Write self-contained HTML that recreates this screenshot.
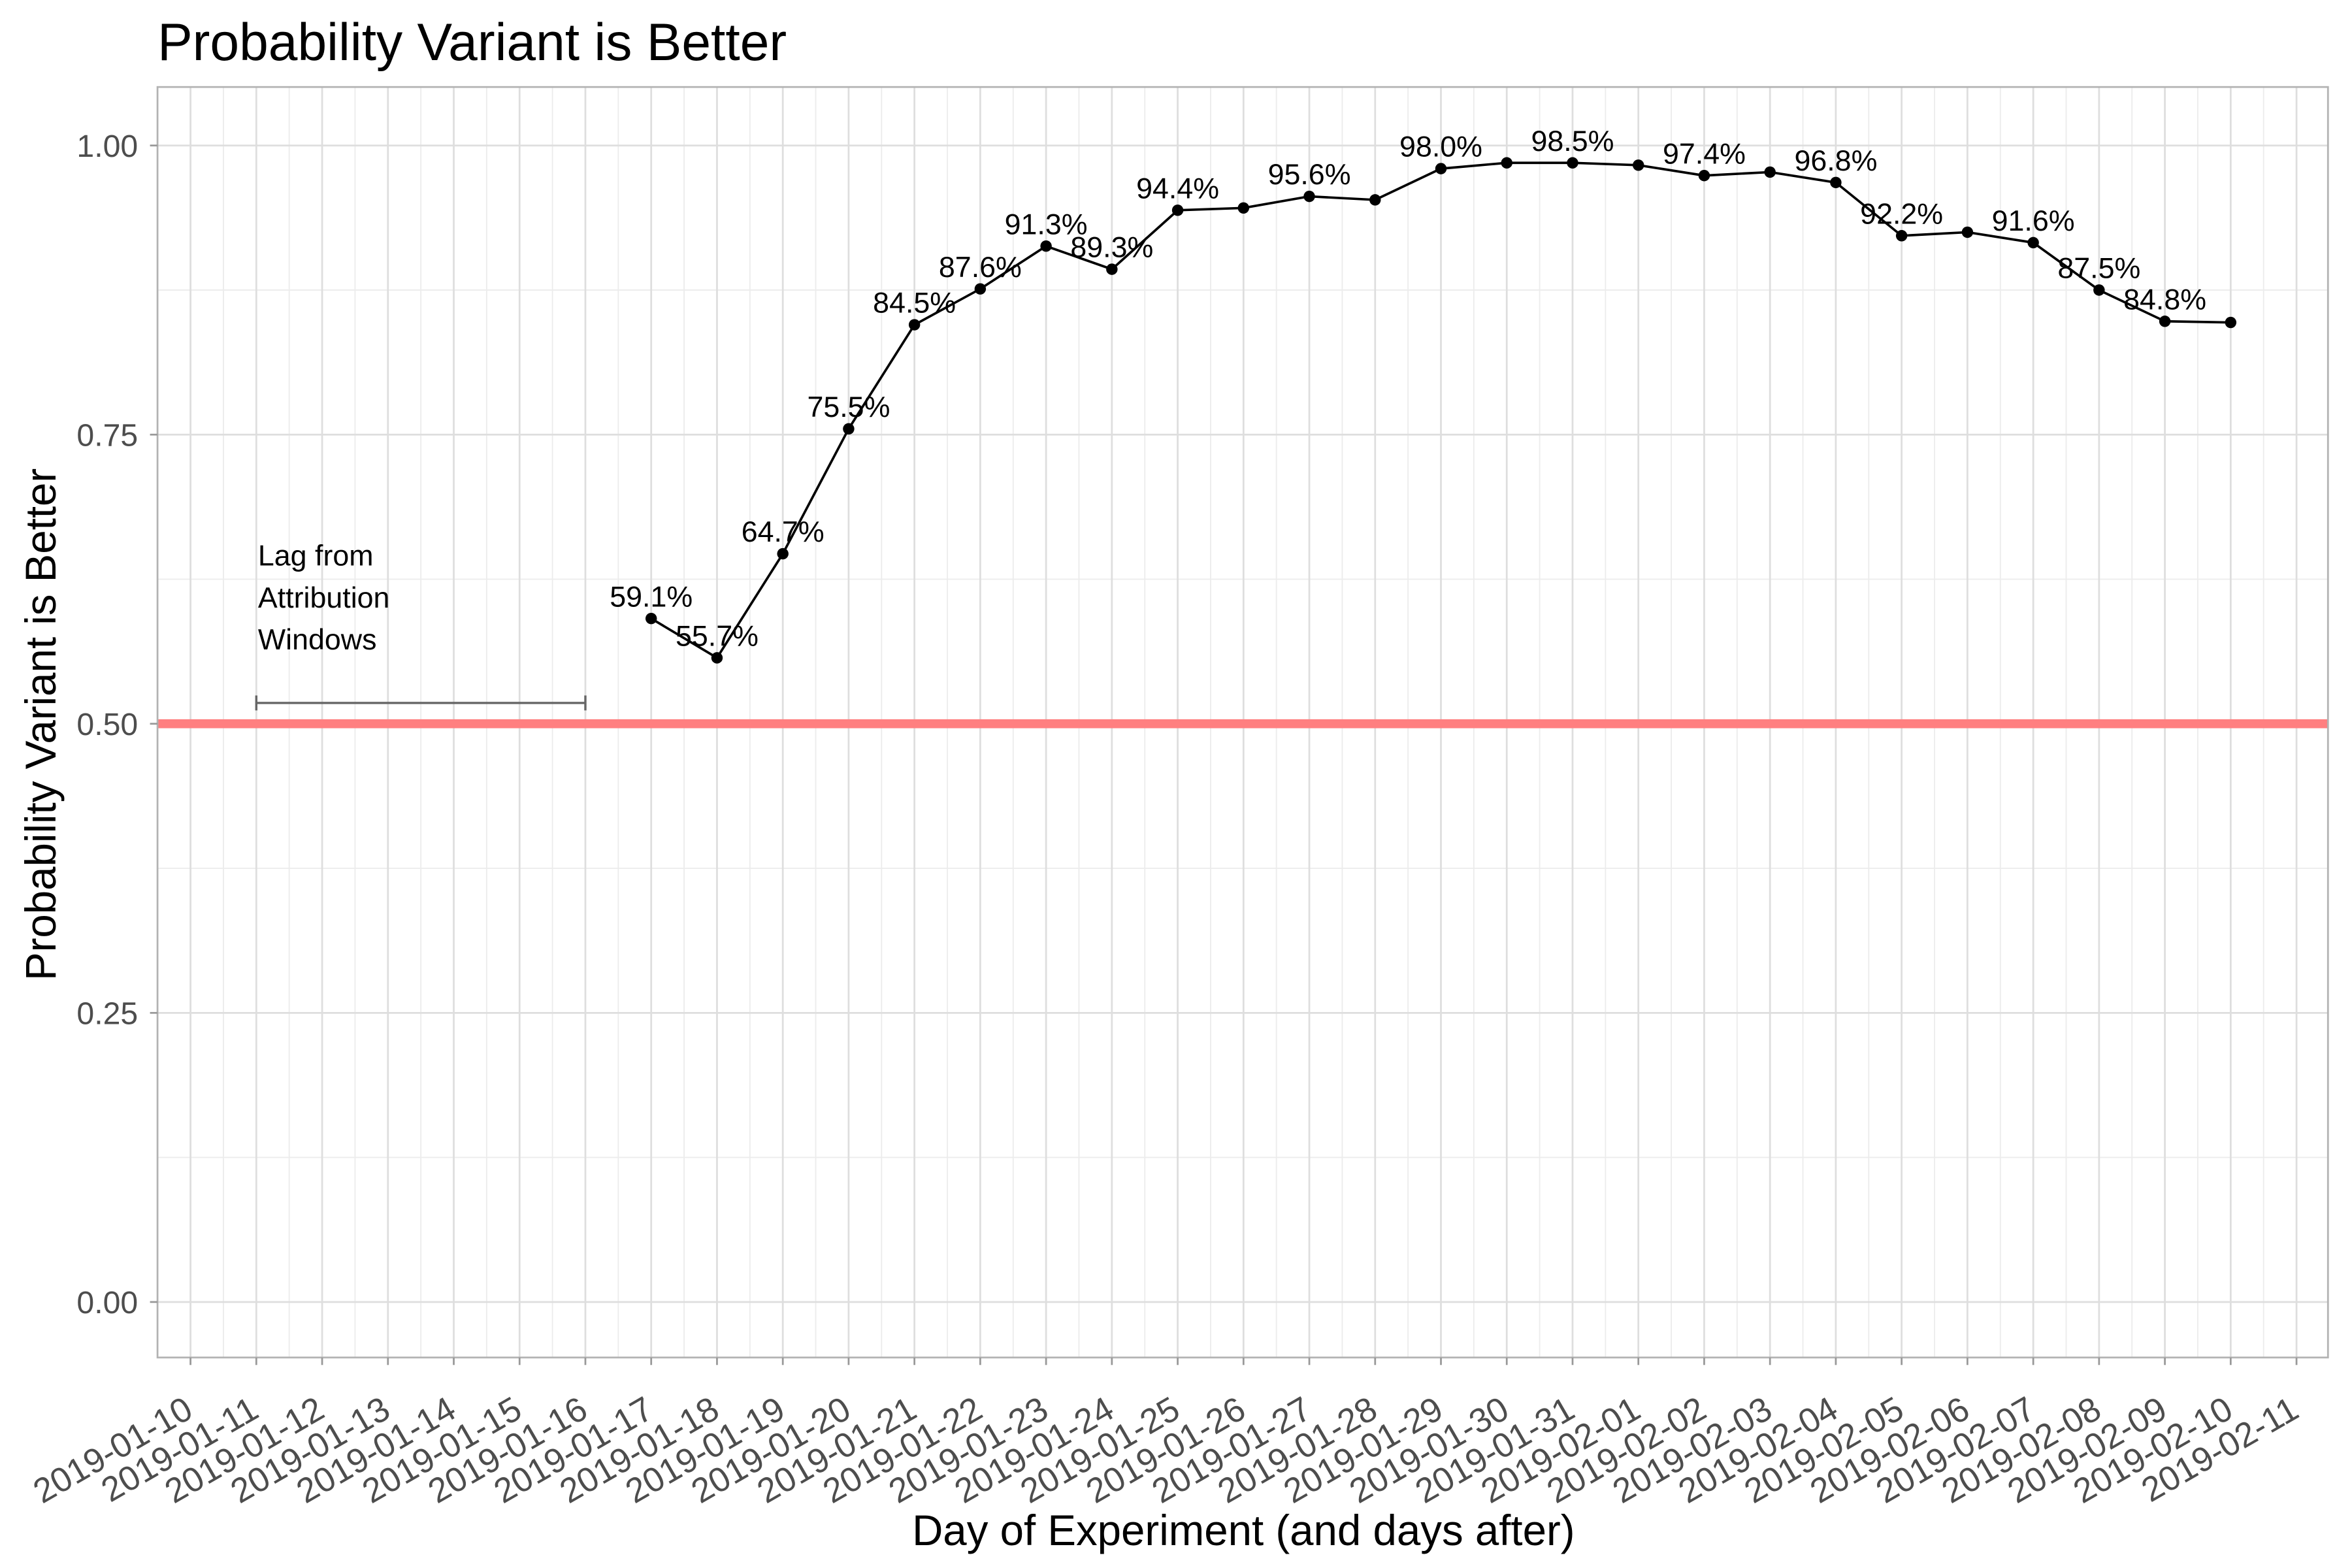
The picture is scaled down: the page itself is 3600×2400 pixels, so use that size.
<!DOCTYPE html>
<html><head><meta charset="utf-8"><style>
html,body{margin:0;padding:0;background:#fff}
svg{display:block;font-family:"Liberation Sans",Arial,sans-serif}
</style></head><body>
<svg id="chart" width="3600" height="2400" viewBox="0 0 1568 1045.33" xmlns="http://www.w3.org/2000/svg">
<rect width="1568" height="1046" fill="#fff"/>
<text x="105" y="40" font-size="35" fill="#000">Probability Variant is Better</text>
<g id="grid"></g>
<line x1="105" x2="1552" y1="482.5" y2="482.5" stroke="#ff7f80" stroke-width="6"/>
<g id="annot">
<text x="172" y="377" font-size="19.5" fill="#000">Lag from</text>
<text x="172" y="405" font-size="19.5" fill="#000">Attribution</text>
<text x="172" y="433" font-size="19.5" fill="#000">Windows</text>
</g>
<g id="marks"></g>
<rect x="105" y="58" width="1447" height="847" fill="none" stroke="#b3b3b3" stroke-width="1.2"/>
<g id="axes"></g>
<text transform="translate(37,483) rotate(-90)" text-anchor="middle" font-size="28.5" fill="#000">Probability Variant is Better</text>
<text x="829" y="1030" text-anchor="middle" font-size="28.5" fill="#000">Day of Experiment (and days after)</text>
</svg>
<script>
const tickDates = ["2019-01-10","2019-01-11","2019-01-12","2019-01-13","2019-01-14","2019-01-15","2019-01-16","2019-01-17","2019-01-18","2019-01-19","2019-01-20","2019-01-21","2019-01-22","2019-01-23","2019-01-24","2019-01-25","2019-01-26","2019-01-27","2019-01-28","2019-01-29","2019-01-30","2019-01-31","2019-02-01","2019-02-02","2019-02-03","2019-02-04","2019-02-05","2019-02-06","2019-02-07","2019-02-08","2019-02-09","2019-02-10","2019-02-11"];
const yTicks = [0, 0.25, 0.5, 0.75, 1.0];
const yTickLabels = ["0.00","0.25","0.50","0.75","1.00"];
const dates = ["2019-01-17","2019-01-18","2019-01-19","2019-01-20","2019-01-21","2019-01-22","2019-01-23","2019-01-24","2019-01-25","2019-01-26","2019-01-27","2019-01-28","2019-01-29","2019-01-30","2019-01-31","2019-02-01","2019-02-02","2019-02-03","2019-02-04","2019-02-05","2019-02-06","2019-02-07","2019-02-08","2019-02-09","2019-02-10"];
const values = [0.591,0.557,0.647,0.755,0.845,0.876,0.913,0.893,0.944,0.946,0.956,0.953,0.980,0.985,0.985,0.983,0.974,0.977,0.968,0.922,0.925,0.916,0.875,0.848,0.847];
const labeled = [true,true,true,true,true,true,true,true,true,false,true,false,true,false,true,false,true,false,true,true,false,true,true,true,false];
const lagStart = "2019-01-11", lagEnd = "2019-01-16", lagY = 0.518;

const NS="http://www.w3.org/2000/svg";
const day0 = Date.parse("2019-01-10");
function xs(d){ return 127 + (Date.parse(d)-day0)/86400000*43.875; }
function ys(v){ return 868 - v*771; }
function mk(parent,tag,attrs){const e=document.createElementNS(NS,tag);for(const k in attrs)e.setAttribute(k,attrs[k]);parent.appendChild(e);return e;}
const grid=document.getElementById('grid'),marks=document.getElementById('marks'),axes=document.getElementById('axes');
for(let i=0;i<yTicks.length-1;i++){const y=ys((yTicks[i]+yTicks[i+1])/2);const l=mk(grid,'line',{x1:105,x2:1552,y1:y,y2:y,stroke:'#ececec','stroke-width':0.8});

}
for(let i=0;i<tickDates.length-1;i++){const x=(xs(tickDates[i])+xs(tickDates[i+1]))/2;const l=mk(grid,'line',{x1:x,x2:x,y1:58,y2:905,stroke:'#ececec','stroke-width':0.8});

}
yTicks.forEach((v,i)=>{const y=ys(v);
const l=mk(grid,'line',{x1:105,x2:1552,y1:y,y2:y,stroke:'#dedede','stroke-width':1.2});


const t=mk(axes,'line',{x1:100,x2:105,y1:y,y2:y,stroke:'#999','stroke-width':1.2});


const tx=mk(axes,'text',{x:92,y:y+7.5,'text-anchor':'end','font-size':21,fill:'#4d4d4d'});tx.textContent=yTickLabels[i];

});
tickDates.forEach(d=>{const x=xs(d);
const l=mk(grid,'line',{x1:x,x2:x,y1:58,y2:905,stroke:'#dedede','stroke-width':1.2});


const t=mk(axes,'line',{x1:x,x2:x,y1:905,y2:910,stroke:'#999','stroke-width':1.2});


const tx=mk(axes,'text',{transform:`translate(${x+3},${944}) rotate(-30)`,'text-anchor':'end','font-size':23,fill:'#4d4d4d'});tx.textContent=d;

});
const ann=document.getElementById('annot');
const x1=xs(lagStart),x2=xs(lagEnd),ly=ys(lagY);
const eb=mk(ann,'path',{d:`M${x1},${ly-5}V${ly+5}M${x1},${ly}H${x2}M${x2},${ly-5}V${ly+5}`,stroke:'#666','stroke-width':1.5,fill:'none'});


const pl=mk(marks,'polyline',{points:dates.map((d,i)=>xs(d)+','+ys(values[i])).join(' '),fill:'none',stroke:'#000','stroke-width':1.6});


dates.forEach((d,i)=>{const c=mk(marks,'circle',{cx:xs(d),cy:ys(values[i]),r:3.8,fill:'#000'});


if(labeled[i]){const t=mk(marks,'text',{x:xs(d),y:ys(values[i])-8,'text-anchor':'middle','font-size':19.5,fill:'#000'});t.textContent=(values[i]*100).toFixed(1)+'%';

}});
</script>
</body></html>
